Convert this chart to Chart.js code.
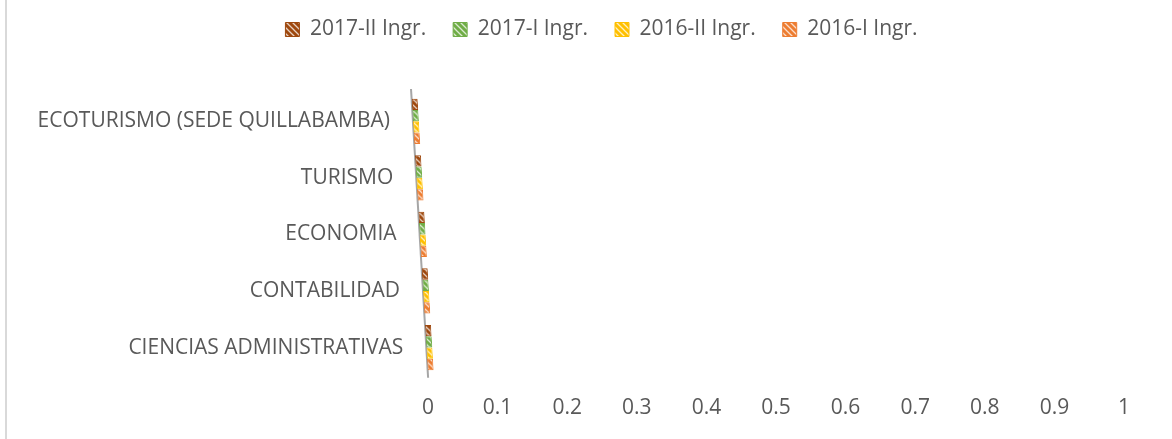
<!DOCTYPE html>
<html>
<head>
<meta charset="utf-8">
<script src="https://cdn.jsdelivr.net/npm/chart.js@4"></script>
<style>
  html, body { margin:0; padding:0; background:#fff; }
  #wrap { position:relative; width:1172px; height:439px; }
  #frame { position:absolute; left:5px; top:0; width:2px; height:439px; background:#d9d9d9; }
  canvas { position:absolute; left:0; top:0; }
</style>
</head>
<body>
<div id="wrap">
  <canvas id="chart" width="1172" height="439"></canvas>
  <div id="frame"></div>
</div>
<script>
// categories, top to bottom
const careers = [
  'ECOTURISMO (SEDE QUILLABAMBA)',
  'TURISMO',
  'ECONOMIA',
  'CONTABILIDAD',
  'CIENCIAS ADMINISTRATIVAS'
];
const seriesNames = ['2017-II Ingr.', '2017-I Ingr.', '2016-II Ingr.', '2016-I Ingr.'];
const seriesColors = ['#9E480E', '#70AD47', '#FFC000', '#ED7D31'];

// every value in the picture is zero
const ingr2017II = [0, 0, 0, 0, 0];
const ingr2017I  = [0, 0, 0, 0, 0];
const ingr2016II = [0, 0, 0, 0, 0];
const ingr2016I  = [0, 0, 0, 0, 0];
const seriesValues = [ingr2017II, ingr2017I, ingr2016II, ingr2016I];

const xTicks = [0, 0.1, 0.2, 0.3, 0.4, 0.5, 0.6, 0.7, 0.8, 0.9, 1];

const FONT = 'Open Sans';
const TEXT = '#595959';

// small hatch pattern like the excel fill
function hatch(color){
  const c = document.createElement('canvas');
  c.width = 6; c.height = 6;
  const g = c.getContext('2d');
  g.fillStyle = color;
  g.fillRect(0,0,6,6);
  g.strokeStyle = 'rgba(255,255,255,0.75)';
  g.lineWidth = 1.3;
  g.beginPath();
  g.moveTo(-1,-1); g.lineTo(7,7);
  g.moveTo(-4,2); g.lineTo(4,10);
  g.moveTo(2,-4); g.lineTo(10,4);
  g.stroke();
  return g.createPattern(c, 'repeat');
}

// fake 3d slant: axis leans to the left towards the top
const SLANT = 17 / 287;
const slantPlugin = {
  id: 'slant',
  afterLayout(chart){
    // shift the category labels along the slant too, and don't clip them
    const y = chart.scales.y;
    if (y._slantPatched) return;
    const orig = y.getLabelItems;
    y.getLabelItems = function(area){
      const items = orig.call(this, area);
      if (!items._slant) {
        const bottom = chart.chartArea.bottom;
        items.forEach(it => {
          const t = it.options && it.options.translation;
          if (t) t[0] += SLANT * (t[1] - bottom);
        });
        items._slant = true;
      }
      return items;
    };
    y._computeLabelArea = () => undefined;
    y._slantPatched = true;
  },
  beforeDatasetsDraw(chart){
    const ctx = chart.ctx;
    const area = chart.chartArea;
    const x0 = chart.scales.x.getPixelForValue(0);
    ctx.save();
    ctx.transform(1, 0, SLANT, 1, -SLANT * area.bottom, 0);
    ctx.strokeStyle = '#a6a6a6';
    ctx.lineWidth = 2;
    ctx.beginPath();
    ctx.moveTo(x0, area.top - 4);
    ctx.lineTo(x0, area.bottom + 2);
    ctx.stroke();
  },
  afterDatasetsDraw(chart){
    chart.ctx.restore();
  }
};

const datasets = seriesNames.map((name, i) => ({
  label: name,
  data: seriesValues[i],
  backgroundColor: hatch(seriesColors[i]),
  borderColor: seriesColors[i],
  borderWidth: 1,
  borderSkipped: false,
  minBarLength: 6,
  barPercentage: 1,
  categoryPercentage: 0.8
}));

const ctx = document.getElementById('chart').getContext('2d');
const chart = new Chart(ctx, {
  type: 'bar',
  data: { labels: careers, datasets: datasets },
  plugins: [slantPlugin],
  options: {
    indexAxis: 'y',
    responsive: false,
    animation: false,
    layout: { padding: { top: -8, right: 48, bottom: -2, left: 79 } },
    plugins: {
      tooltip: { enabled: false },
      legend: {
        position: 'top',
        weight: 3000,
        labels: {
          font: { family: FONT, size: 21 },
          color: TEXT,
          boxWidth: 14,
          boxHeight: 14,
          padding: 27
        }
      },
      subtitle: {
        display: true,
        text: ' ',
        font: { size: 10 },
        padding: { top: 0, bottom: 31 }
      }
    },
    scales: {
      x: {
        min: 0,
        max: 1,
        afterBuildTicks: axis => { axis.ticks = xTicks.map(v => ({ value: v })); },
        ticks: {
          font: { family: FONT, size: 21 },
          color: TEXT,
          padding: 20,
          maxRotation: 0,
          callback: v => String(Math.round(v * 10) / 10)
        },
        grid: { display: false, drawTicks: false },
        border: { display: false }
      },
      y: {
        afterFit: axis => { axis.width = 349; },
        ticks: {
          font: { family: FONT, size: 21 },
          color: TEXT,
          padding: 23
        },
        grid: { display: false, drawTicks: false },
        border: { display: false }
      }
    }
  }
});
</script>
</body>
</html>
